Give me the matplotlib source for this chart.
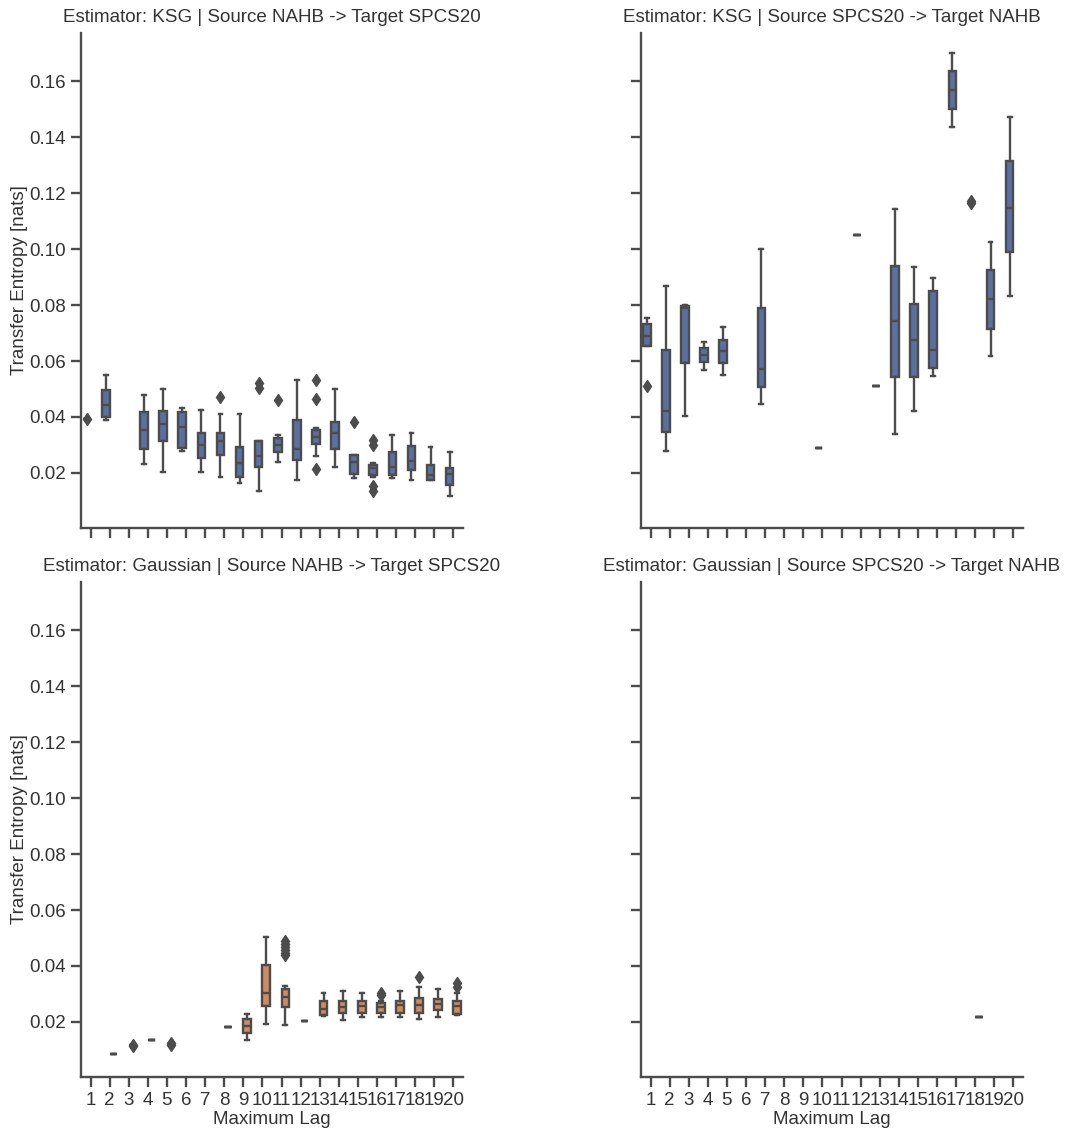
import matplotlib.pyplot as plt

plt.rcParams['font.family'] = ['Liberation Sans', 'DejaVu Sans']

lags = list(range(1, 21))
titles = [
    'Estimator: KSG | Source NAHB -> Target SPCS20',
    'Estimator: KSG | Source SPCS20 -> Target NAHB',
    'Estimator: Gaussian | Source NAHB -> Target SPCS20',
    'Estimator: Gaussian | Source SPCS20 -> Target NAHB',
]
estimators = ['KSG', 'KSG', 'Gaussian', 'Gaussian']

# (lag, whislo, q1, median, q3, whishi)
ksg_nahb_spcs = [
    (1, 0.0392, 0.0392, 0.0392, 0.0392, 0.0392),
    (2, 0.0390, 0.0400, 0.0444, 0.0495, 0.0551),
    (4, 0.0232, 0.0287, 0.0354, 0.0417, 0.0480),
    (5, 0.0202, 0.0313, 0.0375, 0.0420, 0.0500),
    (6, 0.0277, 0.0289, 0.0363, 0.0418, 0.0432),
    (7, 0.0202, 0.0253, 0.0301, 0.0343, 0.0426),
    (8, 0.0187, 0.0265, 0.0315, 0.0343, 0.0411),
    (9, 0.0164, 0.0185, 0.0235, 0.0291, 0.0412),
    (10, 0.0136, 0.0221, 0.0261, 0.0315, 0.0315),
    (11, 0.0238, 0.0273, 0.0301, 0.0325, 0.0337),
    (12, 0.0176, 0.0247, 0.0285, 0.0388, 0.0533),
    (13, 0.0259, 0.0304, 0.0328, 0.0355, 0.0360),
    (14, 0.0220, 0.0287, 0.0343, 0.0382, 0.0500),
    (15, 0.0181, 0.0197, 0.0238, 0.0263, 0.0263),
    (16, 0.0185, 0.0193, 0.0217, 0.0229, 0.0235),
    (17, 0.0181, 0.0193, 0.0220, 0.0273, 0.0337),
    (18, 0.0176, 0.0211, 0.0241, 0.0297, 0.0343),
    (19, 0.0173, 0.0173, 0.0193, 0.0229, 0.0292),
    (20, 0.0118, 0.0158, 0.0196, 0.0217, 0.0273),
]
ksg_nahb_spcs_fliers = {
    1: [0.0392], 8: [0.0471], 10: [0.0522, 0.0505], 11: [0.0462],
    13: [0.0533, 0.0465, 0.0214], 15: [0.0382],
    16: [0.0318, 0.0300, 0.0154, 0.0136],
}

ksg_spcs_nahb = [
    (1, 0.0653, 0.0653, 0.0688, 0.0734, 0.0754),
    (2, 0.0277, 0.0345, 0.0420, 0.0641, 0.0867),
    (3, 0.0402, 0.0593, 0.0790, 0.0796, 0.0802),
    (4, 0.0569, 0.0595, 0.0623, 0.0647, 0.0668),
    (5, 0.0549, 0.0593, 0.0635, 0.0674, 0.0722),
    (7, 0.0447, 0.0507, 0.0573, 0.0790, 0.1002),
    (10, 0.0289, 0.0289, 0.0289, 0.0289, 0.0289),
    (12, 0.1049, 0.1049, 0.1049, 0.1049, 0.1049),
    (13, 0.0510, 0.0510, 0.0510, 0.0510, 0.0510),
    (14, 0.0340, 0.0543, 0.0742, 0.0941, 0.1144),
    (15, 0.0420, 0.0543, 0.0674, 0.0805, 0.0935),
    (16, 0.0545, 0.0575, 0.0641, 0.0850, 0.0897),
    (17, 0.1438, 0.1503, 0.1569, 0.1637, 0.1700),
    (18, 0.1168, 0.1168, 0.1168, 0.1168, 0.1168),
    (19, 0.0617, 0.0716, 0.0822, 0.0925, 0.1026),
    (20, 0.0832, 0.0989, 0.1148, 0.1315, 0.1473),
]
ksg_spcs_nahb_fliers = {1: [0.0512], 18: [0.1165, 0.1171]}

gauss_nahb_spcs = [
    (2, 0.0085, 0.0085, 0.0085, 0.0085, 0.0085),
    (3, 0.0116, 0.0116, 0.0116, 0.0116, 0.0116),
    (4, 0.0136, 0.0136, 0.0136, 0.0136, 0.0136),
    (5, 0.0122, 0.0122, 0.0122, 0.0122, 0.0122),
    (8, 0.0181, 0.0181, 0.0181, 0.0181, 0.0181),
    (9, 0.0137, 0.0160, 0.0184, 0.0209, 0.0227),
    (10, 0.0193, 0.0257, 0.0303, 0.0404, 0.0505),
    (11, 0.0190, 0.0253, 0.0290, 0.0318, 0.0330),
    (12, 0.0202, 0.0202, 0.0202, 0.0202, 0.0202),
    (13, 0.0221, 0.0225, 0.0245, 0.0273, 0.0303),
    (14, 0.0207, 0.0233, 0.0255, 0.0275, 0.0309),
    (15, 0.0219, 0.0231, 0.0257, 0.0275, 0.0303),
    (16, 0.0219, 0.0233, 0.0252, 0.0267, 0.0275),
    (17, 0.0217, 0.0231, 0.0261, 0.0273, 0.0309),
    (18, 0.0211, 0.0231, 0.0261, 0.0285, 0.0326),
    (19, 0.0217, 0.0243, 0.0264, 0.0281, 0.0317),
    (20, 0.0225, 0.0229, 0.0257, 0.0275, 0.0305),
]
gauss_nahb_spcs_fliers = {
    3: [0.0113, 0.0119], 5: [0.0118, 0.0126],
    11: [0.0488, 0.0478, 0.0468, 0.0458, 0.0448, 0.0440],
    16: [0.0305, 0.0295], 18: [0.0362], 20: [0.0338, 0.0325],
}

gauss_spcs_nahb = [
    (18, 0.0219, 0.0219, 0.0219, 0.0219, 0.0219),
]
gauss_spcs_nahb_fliers = {}

panel_data = [
    (ksg_nahb_spcs, ksg_nahb_spcs_fliers),
    (ksg_spcs_nahb, ksg_spcs_nahb_fliers),
    (gauss_nahb_spcs, gauss_nahb_spcs_fliers),
    (gauss_spcs_nahb, gauss_spcs_nahb_fliers),
]

colors = {'KSG': '#5a70a0', 'Gaussian': '#cf8a5e'}
offsets = {'KSG': -0.2, 'Gaussian': 0.2}
gray = '#4c4c4c'
text_c = '#333333'
fs = 13.5

fig = plt.figure(figsize=(10.74, 11.32), dpi=100)
W, H = 1074, 1132
lefts = [81, 641]
tops = [33, 582]
ax_w, ax_h = 382, 495

for i in range(4):
    r, c = divmod(i, 2)
    ax = fig.add_axes([lefts[c] / W, 1 - (tops[r] + ax_h) / H, ax_w / W, ax_h / H])
    rows, fl = panel_data[i]
    est = estimators[i]
    stats = []
    pos = []
    for lag, lo, q1, med, q3, hi in rows:
        stats.append(dict(whislo=lo, q1=q1, med=med, q3=q3, whishi=hi,
                          fliers=fl.get(lag, [])))
        pos.append(lags.index(lag) + offsets[est])
    ax.bxp(stats, positions=pos, widths=0.4, patch_artist=True,
           boxprops=dict(facecolor=colors[est], edgecolor=gray, linewidth=1.7),
           medianprops=dict(color=gray, linewidth=1.7),
           whiskerprops=dict(color=gray, linewidth=1.7),
           capprops=dict(color=gray, linewidth=1.7),
           flierprops=dict(marker='d', markerfacecolor=gray,
                           markeredgecolor=gray, markersize=6))
    ax.set_xlim(-0.5, 19.5)
    ax.set_ylim(0.0003, 0.1773)
    ax.set_xticks(range(20))
    ax.set_yticks([0.02, 0.04, 0.06, 0.08, 0.10, 0.12, 0.14, 0.16])
    ax.spines['top'].set_visible(False)
    ax.spines['right'].set_visible(False)
    for s in ['left', 'bottom']:
        ax.spines[s].set_linewidth(1.7)
        ax.spines[s].set_color(gray)
    ax.tick_params(direction='out', length=7, width=1.7, color=gray,
                   labelsize=fs, labelcolor=text_c, pad=4)
    if r == 1:
        ax.set_xticklabels([str(l) for l in lags])
        ax.set_xlabel('Maximum Lag', fontsize=fs, color=text_c, labelpad=1)
    else:
        ax.set_xticklabels([])
    if c == 0:
        ax.set_yticklabels(['0.02', '0.04', '0.06', '0.08', '0.10', '0.12', '0.14', '0.16'])
        ax.set_ylabel('Transfer Entropy [nats]', fontsize=fs, color=text_c, labelpad=1)
    else:
        ax.set_yticklabels([])
    ax.set_title(titles[i], fontsize=fs, color=text_c, pad=8)

fig.savefig('out.png', dpi=100)
